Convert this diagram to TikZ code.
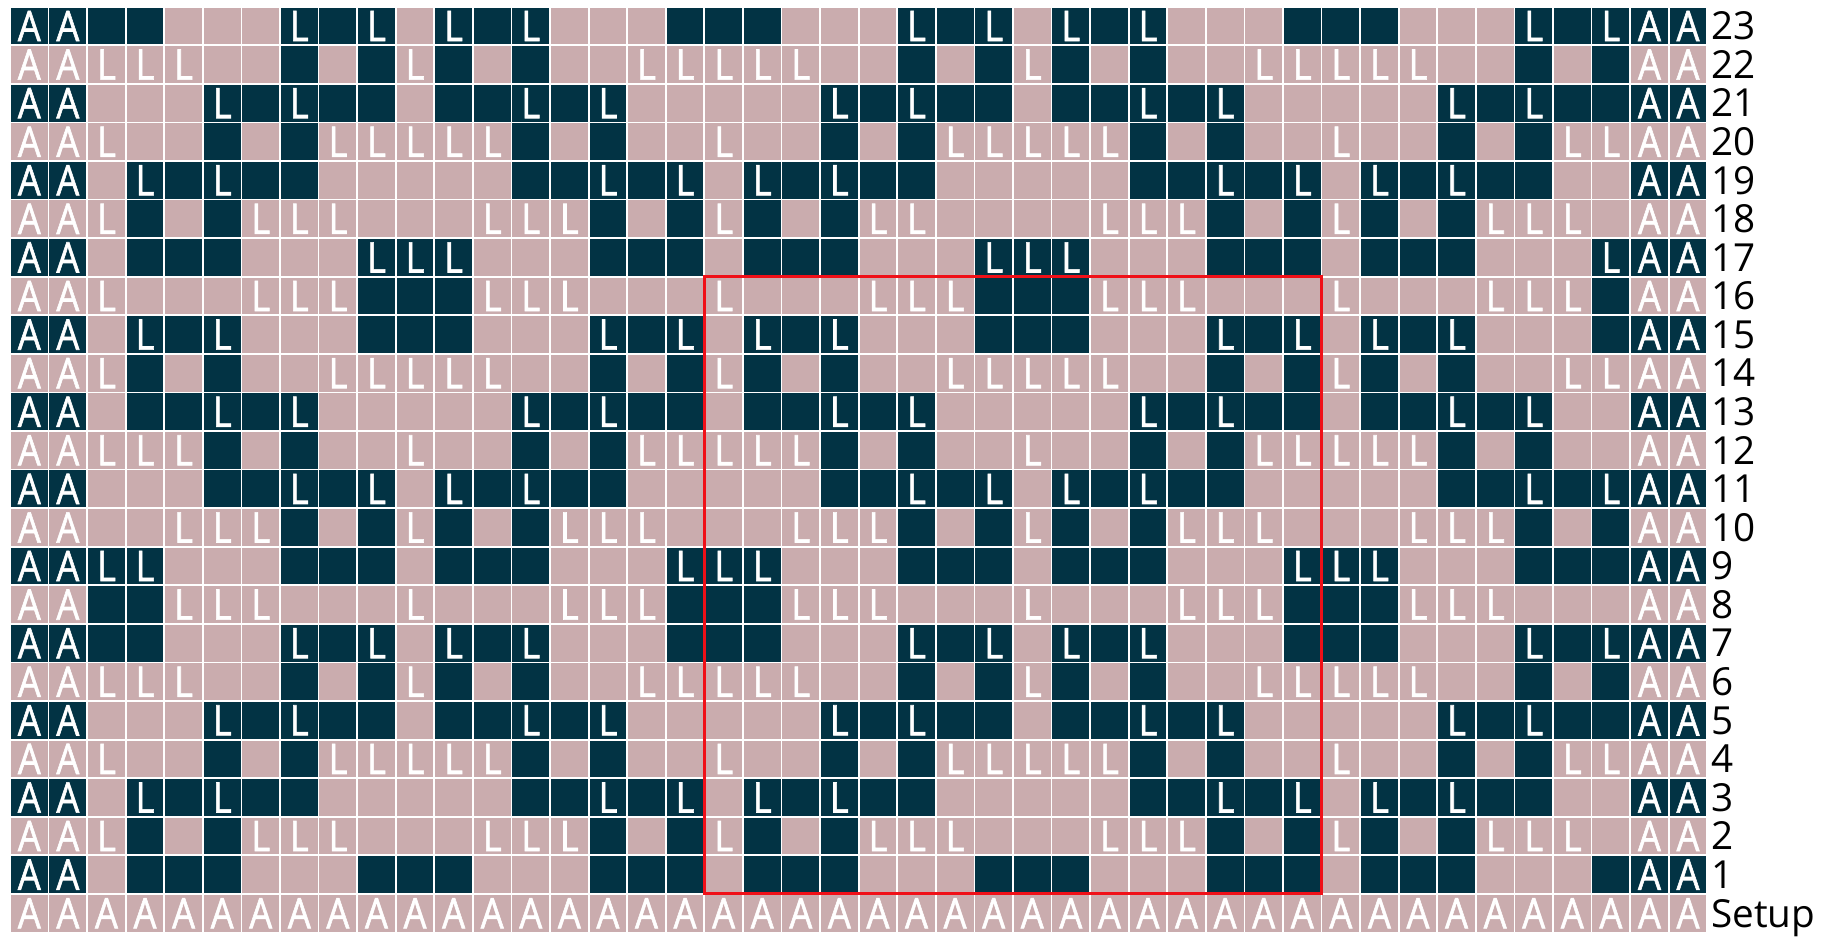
\documentclass[tikz,border=0pt]{standalone}
\usepackage{fontspec}
\usepackage{graphicx}
\newfontfamily\chartfont{Open Sans}
\newfontfamily\chartcellfont{Open Sans}[FakeBold=1.5]
\definecolor{chartdark}{RGB}{2,51,68}
\definecolor{chartpink}{RGB}{202,172,174}
\definecolor{chartred}{RGB}{240,16,24}
\newcommand\cellfont{\chartcellfont\fontsize{24pt}{24pt}\selectfont}
\newcommand\labelfont{\chartfont\fontsize{22pt}{22pt}\selectfont}
\newcommand\cellL{\scalebox{0.86}[1]{L}}
\newcommand\cellA{\scalebox{0.86}[1]{A}}
\newcommand\defchartrow[2]{\expandafter\def\csname chartpat#1\endcsname{#2}}
\newcommand\setcellkind[1]{%
  \def\cellfill{chartpink}\def\celltext{}%
  \if d#1\def\cellfill{chartdark}\fi
  \if L#1\def\cellfill{chartdark}\def\celltext{\cellL}\fi
  \if l#1\def\celltext{\cellL}\fi}
\defchartrow{23}{p,d,d,d,p,p,p,L,d,L,p,L,d,L,p,p}
\defchartrow{22}{l,l,l,l,l,p,p,d,p,d,l,d,p,d,p,p}
\defchartrow{21}{p,p,p,p,p,L,d,L,d,d,p,d,d,L,d,L}
\defchartrow{20}{p,p,l,p,p,d,p,d,l,l,l,l,l,d,p,d}
\defchartrow{19}{d,L,p,L,d,L,d,d,p,p,p,p,p,d,d,L}
\defchartrow{18}{p,d,l,d,p,d,l,l,l,p,p,p,l,l,l,d}
\defchartrow{17}{d,d,p,d,d,d,p,p,p,L,L,L,p,p,p,d}
\defchartrow{16}{p,p,l,p,p,p,l,l,l,d,d,d,l,l,l,p}
\defchartrow{15}{d,L,p,L,d,L,p,p,p,d,d,d,p,p,p,L}
\defchartrow{14}{p,d,l,d,p,d,p,p,l,l,l,l,l,p,p,d}
\defchartrow{13}{d,d,p,d,d,L,d,L,p,p,p,p,p,L,d,L}
\defchartrow{12}{l,l,l,l,l,d,p,d,p,p,l,p,p,d,p,d}
\defchartrow{11}{p,p,p,p,p,d,d,L,d,L,p,L,d,L,d,d}
\defchartrow{10}{l,p,p,p,l,l,l,d,p,d,l,d,p,d,l,l}
\defchartrow{9}{p,L,L,L,p,p,p,d,d,d,p,d,d,d,p,p}
\defchartrow{8}{l,d,d,d,l,l,l,p,p,p,l,p,p,p,l,l}
\defchartrow{7}{p,d,d,d,p,p,p,L,d,L,p,L,d,L,p,p}
\defchartrow{6}{l,l,l,l,l,p,p,d,p,d,l,d,p,d,p,p}
\defchartrow{5}{p,p,p,p,p,L,d,L,d,d,p,d,d,L,d,L}
\defchartrow{4}{p,p,l,p,p,d,p,d,l,l,l,l,l,d,p,d}
\defchartrow{3}{d,L,p,L,d,L,d,d,p,p,p,p,p,d,d,L}
\defchartrow{2}{p,d,l,d,p,d,l,l,l,p,p,p,l,l,l,d}
\defchartrow{1}{d,d,p,d,d,d,p,p,p,d,d,d,p,p,p,d}
\tikzset{
  cell/.style={rectangle, draw=white, line width=0.035cm,
    minimum width=0.7715cm, minimum height=0.7715cm,
    inner sep=0pt, outer sep=0pt, text=white, font=\cellfont},
  rowlabel/.style={anchor=base west, inner sep=0pt, text=black, font=\labelfont},
  redbox/.style={draw=chartred, line width=0.06cm}
}
\begin{document}
\begin{tikzpicture}
\useasboundingbox (0,0) rectangle (36.88,-18.74);
\foreach \r in {1,...,23}{
  \pgfmathsetmacro\yc{-(0.134+(23-\r+0.5)*0.7715)}
  \expandafter\let\expandafter\rowpat\csname chartpat\r\endcsname
  \foreach \t [count=\p from 0] in \rowpat {
    \foreach \k in {0,1,2}{
      \pgfmathtruncatemacro\c{\p+16*\k}
      \ifnum\c>1 \ifnum\c<42
        \setcellkind{\t}%
        \ifnum\r=18 \ifnum\c=24 \setcellkind{p}\fi\fi
        \node[cell, fill=\cellfill] (c-\r-\c) at ({0.2+(\c+0.5)*0.7715},\yc) {\celltext};
      \fi\fi
    }
  }
  \ifodd\r \def\afill{chartdark}\else \def\afill{chartpink}\fi
  \foreach \c in {0,1,42,43}{
    \node[cell, fill=\afill] (c-\r-\c) at ({0.2+(\c+0.5)*0.7715},\yc) {\cellA};
  }
  \node[rowlabel] (lab-\r) at (34.22,\yc-0.276) {\r};
}
\pgfmathsetmacro\ys{-(0.134+23.5*0.7715)}
\foreach \c in {0,...,43}{
  \node[cell, fill=chartpink] (c-0-\c) at ({0.2+(\c+0.5)*0.7715},\ys) {\cellA};
}
\node[rowlabel] (lab-0) at (34.22,\ys-0.276) {Setup};
\draw[redbox] (c-16-18.north west) rectangle (c-1-33.south east);
\end{tikzpicture}
\end{document}
